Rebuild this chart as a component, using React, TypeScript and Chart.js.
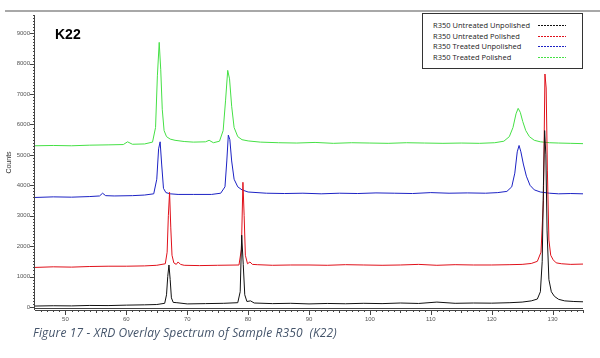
import React, { useEffect, useRef } from "react";
import { Chart, registerables } from "chart.js";
Chart.register(...registerables);

const xTicks = [50, 60, 70, 80, 90, 100, 110, 120, 130];
const yTicks = [0, 1000, 2000, 3000, 4000, 5000, 6000, 7000, 8000, 9000];

const seriesLabels = [
  "R350 Untreated Unpolished",
  "R350 Untreated Polished",
  "R350 Treated Unpolished",
  "R350 Treated Polished",
];
const seriesColors = ["#111111", "#e0101a", "#1c22c4", "#45e045"];

const xBlack = [45, 48, 51, 54, 57, 60, 63, 65, 66.3, 66.6, 66.8, 67.0, 67.2, 67.4, 67.7, 68.3, 70, 73, 76, 78.3, 78.7, 78.95, 79.2, 79.45, 79.8, 80.4, 81, 84, 87, 90, 93, 96, 99, 102, 105, 108, 111, 114, 117, 120, 123, 125, 126.5, 127.5, 128.0, 128.3, 128.5, 128.7, 128.9, 129.1, 129.4, 129.8, 130.3, 131, 132, 133.5, 135];
const yBlack = [30, 40, 35, 50, 45, 60, 70, 80, 120, 400, 1000, 1380, 900, 300, 150, 140, 100, 110, 120, 140, 500, 2360, 1400, 400, 180, 200, 130, 110, 120, 100, 115, 105, 120, 110, 130, 115, 160, 120, 130, 125, 140, 160, 200, 260, 500, 1500, 4000, 5800, 5000, 2500, 900, 500, 350, 250, 200, 180, 170];

const xRed = [45, 48, 51, 54, 57, 60, 63, 65, 66.4, 66.7, 66.9, 67.1, 67.3, 67.5, 67.8, 68.2, 68.5, 68.9, 69.5, 72, 75, 78.5, 78.9, 79.15, 79.35, 79.55, 79.9, 80.3, 80.7, 81.5, 84, 87, 90, 93, 96, 99, 102, 105, 108, 111, 114, 117, 120, 123, 125, 126.5, 127.5, 128.1, 128.5, 128.75, 128.95, 129.15, 129.4, 129.7, 130.1, 130.6, 131.5, 133, 135];
const yRed = [1300, 1320, 1310, 1330, 1340, 1340, 1350, 1370, 1420, 1800, 3000, 3770, 2600, 1700, 1450, 1400, 1480, 1400, 1370, 1360, 1370, 1380, 1900, 4100, 3000, 1700, 1420, 1480, 1400, 1390, 1370, 1380, 1380, 1370, 1390, 1380, 1370, 1380, 1400, 1370, 1390, 1380, 1380, 1390, 1400, 1430, 1500, 1800, 3500, 7660, 7200, 4500, 2200, 1700, 1550, 1450, 1420, 1400, 1410];

const xBlue = [45, 48, 51, 54, 55.6, 56.1, 56.6, 58, 61, 63, 64.5, 65.0, 65.3, 65.55, 65.8, 66.1, 66.5, 67.2, 68.5, 71, 74, 75.5, 76.2, 76.5, 76.75, 77.0, 77.3, 77.7, 78.3, 79, 80, 83, 86, 89, 92, 95, 98, 101, 104, 107, 110, 113, 116, 119, 121, 122.5, 123.3, 123.8, 124.2, 124.5, 124.8, 125.2, 125.7, 126.3, 127, 128, 129.5, 131, 133, 135];
const yBlue = [3600, 3620, 3610, 3630, 3650, 3740, 3660, 3650, 3660, 3680, 3720, 4200, 5200, 5430, 4700, 3900, 3760, 3720, 3700, 3700, 3700, 3740, 3950, 4800, 5650, 5500, 4800, 4200, 3950, 3850, 3780, 3740, 3730, 3740, 3720, 3740, 3730, 3750, 3740, 3730, 3760, 3740, 3750, 3740, 3760, 3800, 3950, 4400, 5100, 5310, 5100, 4700, 4300, 4000, 3850, 3780, 3740, 3720, 3730, 3720];

const xGreen = [45, 48, 51, 54, 57, 59.5, 60.2, 61, 63, 64.3, 64.8, 65.1, 65.4, 65.65, 65.9, 66.2, 66.6, 67.2, 68, 69.5, 71, 73, 73.6, 74.3, 75.3, 75.9, 76.3, 76.65, 76.95, 77.3, 77.7, 78.3, 79, 80, 82, 85, 88, 91, 94, 97, 100, 103, 106, 109, 112, 115, 118, 120.5, 122, 122.9, 123.5, 124, 124.35, 124.7, 125.1, 125.6, 126.2, 127, 128, 129.5, 131, 133, 135];
const yGreen = [5300, 5310, 5300, 5320, 5330, 5340, 5430, 5350, 5360, 5420, 5900, 7600, 8700, 7800, 6500, 5800, 5600, 5520, 5480, 5440, 5420, 5430, 5480, 5400, 5450, 5800, 6800, 7780, 7500, 6600, 5900, 5600, 5500, 5460, 5420, 5400, 5390, 5410, 5380, 5400, 5390, 5380, 5400, 5390, 5380, 5390, 5380, 5400, 5450, 5600, 5900, 6350, 6530, 6400, 6100, 5800, 5600, 5480, 5430, 5400, 5390, 5380, 5370];

const seriesX = [xBlack, xRed, xBlue, xGreen];
const seriesY = [yBlack, yRed, yBlue, yGreen];

const X_MIN = 45;
const X_MAX = 135;
const Y_MIN = -100;
const Y_MAX = 9600;

const axisTicksPlugin = {
  id: "axisTicks",
  afterDraw(chart: any) {
    const { ctx, chartArea, scales } = chart;
    const xs = scales.x;
    const ys = scales.y;
    ctx.save();
    ctx.strokeStyle = "#444";
    ctx.lineWidth = 1;
    ctx.beginPath();
    ctx.moveTo(chartArea.left - 0.5, chartArea.top);
    ctx.lineTo(chartArea.left - 0.5, chartArea.bottom);
    ctx.stroke();
    for (let v = 0; v <= Y_MAX; v += 100) {
      const py = Math.round(ys.getPixelForValue(v)) + 0.5;
      const major = v % 1000 === 0;
      ctx.beginPath();
      ctx.moveTo(chartArea.left - (major ? 5 : 2), py);
      ctx.lineTo(chartArea.left, py);
      ctx.stroke();
    }
    ctx.beginPath();
    ctx.moveTo(chartArea.left, chartArea.bottom - 1.5);
    ctx.lineTo(chartArea.right, chartArea.bottom - 1.5);
    ctx.moveTo(chartArea.left, chartArea.bottom + 0.5);
    ctx.lineTo(chartArea.right, chartArea.bottom + 0.5);
    ctx.stroke();
    for (let v = 46; v <= X_MAX; v += 1) {
      const px = Math.round(xs.getPixelForValue(v)) + 0.5;
      const len = v % 10 === 0 ? 5 : v % 5 === 0 ? 3 : 2;
      ctx.beginPath();
      ctx.moveTo(px, chartArea.bottom);
      ctx.lineTo(px, chartArea.bottom + len);
      ctx.stroke();
    }
    ctx.restore();
  },
};

function XrdChart() {
  const ref = useRef<HTMLCanvasElement | null>(null);
  useEffect(() => {
    if (!ref.current) return;
    const datasets = seriesLabels.map((label, i) => ({
      label,
      data: seriesX[i].map((x, j) => ({ x, y: seriesY[i][j] })),
      borderColor: seriesColors[i],
      backgroundColor: seriesColors[i],
      borderWidth: 1,
      pointRadius: 0,
      tension: 0,
      fill: false,
    }));
    const chart = new Chart(ref.current, {
      type: "line",
      data: { datasets },
      options: {
        animation: false,
        responsive: false,
        devicePixelRatio: 1,
        layout: { padding: { top: 15, right: 17, left: 0, bottom: 0 } },
        plugins: { legend: { display: false }, tooltip: { enabled: false } },
        scales: {
          x: {
            type: "linear",
            min: X_MIN,
            max: X_MAX,
            grid: { display: false, drawTicks: false },
            border: { display: false },
            afterBuildTicks: (s: any) => {
              s.ticks = xTicks.map((v) => ({ value: v }));
            },
            afterFit: (s: any) => {
              s.height = 48;
            },
            ticks: {
              autoSkip: false,
              maxRotation: 0,
              padding: 6,
              color: "#555",
              font: { family: "Liberation Sans", size: 6 },
              callback: (v: any) => String(v),
            },
          },
          y: {
            type: "linear",
            min: Y_MIN,
            max: Y_MAX,
            grid: { display: false, drawTicks: false },
            border: { display: false },
            afterBuildTicks: (s: any) => {
              s.ticks = yTicks.map((v) => ({ value: v }));
            },
            afterFit: (s: any) => {
              s.width = 35;
            },
            title: {
              display: true,
              text: "Counts",
              color: "#333",
              font: { family: "Liberation Sans", size: 7 },
              padding: { top: 5, bottom: 0 },
            },
            ticks: {
              autoSkip: false,
              padding: 5,
              color: "#555",
              font: { family: "Liberation Sans", size: 6 },
              callback: (v: any) => String(v),
            },
          },
        },
      },
      plugins: [axisTicksPlugin],
    } as any);
    return () => chart.destroy();
  }, []);
  return <canvas ref={ref} width={600} height={358} style={{ position: "absolute", left: 0, top: 0, width: 600, height: 358 }} />;
}

export default function App() {
  return (
    <div style={{ position: "absolute", left: 0, top: 0, width: 600, height: 358, background: "#fff", overflow: "hidden" }}>
      <div style={{ position: "absolute", left: 5, top: 10, width: 595, height: 2, background: "#a8a8a8" }} />
      <XrdChart />
      <div style={{ position: "absolute", left: 55, top: 26, fontFamily: "Liberation Sans", fontWeight: "bold", fontSize: 14, color: "#000", lineHeight: "16px" }}>K22</div>
      <div style={{ position: "absolute", left: 422, top: 13, width: 159, height: 54, border: "1px solid #333", background: "#fff", lineHeight: "10px", fontSize: 7.5 }}>
        {seriesLabels.map((label, i) => (
          <div key={label} style={{ position: "absolute", left: 10, top: 6 + i * 10.7, height: 10, width: 145, lineHeight: "10px", fontSize: 7.5 }}>
            <span style={{ fontFamily: "Open Sans", fontSize: 7.5, color: "#222", lineHeight: "10px", whiteSpace: "nowrap" }}>{label}</span>
            <div style={{ position: "absolute", left: 105, top: 5, width: 28, height: 1, backgroundImage: `repeating-linear-gradient(to right, ${seriesColors[i]} 0 2px, transparent 2px 3px)` }} />
          </div>
        ))}
      </div>
      <div style={{ position: "absolute", left: 33, top: 324, fontFamily: "Open Sans", fontStyle: "italic", fontSize: 12, letterSpacing: 0.15, color: "#44546a", whiteSpace: "pre", lineHeight: "17px" }}>
        {"Figure 17 - XRD Overlay Spectrum of Sample R350  (K22)"}
      </div>
    </div>
  );
}
